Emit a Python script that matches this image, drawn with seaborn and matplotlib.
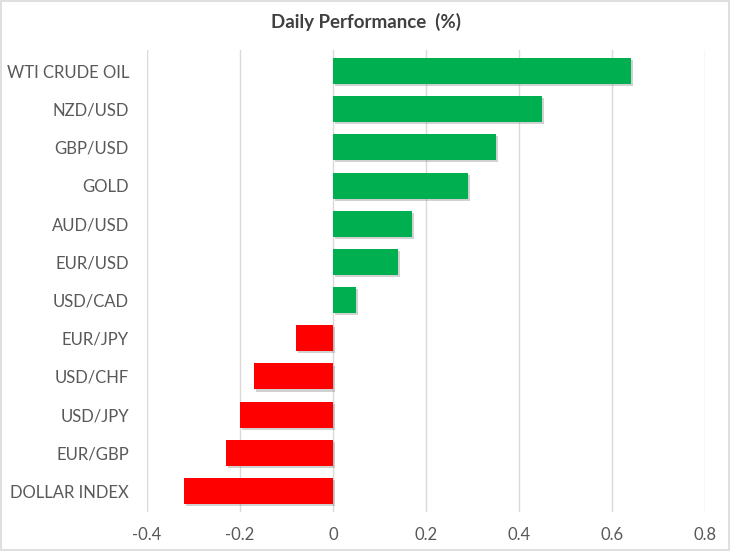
import matplotlib
matplotlib.use("Agg")
import matplotlib.pyplot as plt
import matplotlib.patheffects as pe
from matplotlib.patches import Rectangle
import seaborn as sns
import pandas as pd

categories = ["WTI CRUDE OIL", "NZD/USD", "GBP/USD", "GOLD", "AUD/USD", "EUR/USD",
              "USD/CAD", "EUR/JPY", "USD/CHF", "USD/JPY", "EUR/GBP", "DOLLAR INDEX"]
values = [0.64, 0.45, 0.35, 0.29, 0.17, 0.14, 0.05, -0.08, -0.17, -0.20, -0.23, -0.32]
x_ticks = [-0.4, -0.2, 0, 0.2, 0.4, 0.6, 0.8]
x_tick_labels = ["-0.4", "-0.2", "0", "0.2", "0.4", "0.6", "0.8"]

GREEN = "#00B050"
RED = "#FF0000"

sns.set_style("white")
plt.rcParams["font.family"] = ["Lato", "DejaVu Sans"]

df = pd.DataFrame({"name": categories, "value": values})
colors = [GREEN if v >= 0 else RED for v in values]

fig = plt.figure(figsize=(7.30, 5.51), dpi=100)
ax = fig.add_axes([147 / 730, 1 - 512 / 551, (705 - 147) / 730, (512 - 50) / 551])

sns.barplot(data=df, x="value", y="name", hue="name", palette=colors, legend=False,
            orient="h", width=0.68, saturation=1, ax=ax, zorder=3)

# soft drop shadow like the excel original
shadow = [pe.SimplePatchShadow(offset=(1.5, -1.5), shadow_rgbFace="#8c8c8c", alpha=0.4), pe.Normal()]
for bar in ax.patches:
    bar.set_path_effects(shadow)
    bar.set_edgecolor("none")

ax.set_xlim(-0.4, 0.8)
ax.set_ylim(11.55, -0.55)
ax.set_xticks(x_ticks)
ax.set_xticklabels(x_tick_labels)
ax.xaxis.grid(True, color="#D9D9D9", linewidth=1, zorder=0)
ax.set_axisbelow(True)
for s in ax.spines.values():
    s.set_visible(False)
ax.tick_params(axis="both", length=0, labelsize=12, labelcolor="#595959")
ax.tick_params(axis="x", pad=11)
ax.tick_params(axis="y", pad=13)
ax.set_xlabel("")
ax.set_ylabel("")

fig.text(366 / 730, 1 - 22 / 551, "Daily Performance  (%)", ha="center", va="center",
         fontsize=13.5, fontweight="bold", color="#404040")

fig.patches.append(Rectangle((0.001, 0.002), 0.997, 0.996, transform=fig.transFigure,
                             fill=False, edgecolor="#D9D9D9", linewidth=1.2))

fig.savefig("out.png", dpi=100, facecolor="white")
